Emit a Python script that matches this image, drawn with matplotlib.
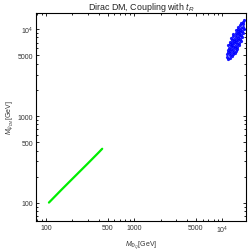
import matplotlib
matplotlib.use("Agg")
import matplotlib.pyplot as plt
from matplotlib.ticker import FixedLocator, FixedFormatter, LogLocator, NullFormatter

plt.rcParams['font.family'] = ['Liberation Sans', 'DejaVu Sans']
plt.rcParams['mathtext.fontset'] = 'custom'
plt.rcParams['mathtext.rm'] = 'Liberation Sans'
plt.rcParams['mathtext.it'] = 'Liberation Sans:italic'

# Green band (light states)
green_x = [108, 150, 200, 250, 300, 350, 400, 435]
green_y = [101, 142, 190, 238, 286, 335, 384, 420]

# Blue cloud (heavy states)
blue_x = [
    11700,
    11520, 12390,
    11490, 12200, 12960,
    11730, 12460, 13230,
    11550, 12260, 13200, 14020,
    11850, 12590, 13410, 14230,
    11760, 12490, 13270, 14090, 14960,
    12360, 13130, 13980, 14840,
    12260, 13020, 13830, 14690, 15600,
    12890, 13690, 14570, 15480,
    12790, 13580, 14420, 15320, 16270,
    13440, 14270, 15200, 16140,
    13480, 14500, 15600, 16790,
    14270, 15000, 15730, 16530,
    14230, 15320, 16060, 17280,
    15080, 16010, 17010,
    15200, 16350, 17600,
    15930, 17510,
    16270, 17460,
    17420,
    17780,
]
blue_y = [
    4520,
    4830, 4690,
    5130, 5010, 4895,
    5410, 5280, 5150,
    5780, 5650, 5470, 5340,
    6080, 5920, 5780, 5630,
    6480, 6310, 6160, 6020, 5860,
    6740, 6560, 6410, 6240,
    7180, 7000, 6830, 6670, 6500,
    7470, 7280, 7110, 6920,
    7960, 7760, 7570, 7400, 7200,
    8290, 8070, 7880, 7680,
    8780, 8530, 8260, 8030,
    9120, 8920, 8760, 8580,
    9690, 9410, 9240, 8950,
    10050, 9800, 9560,
    10630, 10320, 10030,
    11090, 10660,
    11690, 11320,
    12050,
    12690,
]

tick_vals = [100, 500, 1000, 5000, 10000]
tick_labels = ['100', '500', '1000', '5000', r'$10^4$']

fig = plt.figure(figsize=(2.49, 2.53), dpi=100)
ax = fig.add_axes([36/249, 1-222/253, 210/249, 208/253])

ax.plot(green_x, green_y, color='#00ee00', lw=1.6, solid_capstyle='round', zorder=2)
ax.plot(blue_x, blue_y, 'o', color='#0000ff', ms=2.3, mew=0, alpha=0.9, zorder=3)

ax.set_xscale('log')
ax.set_yscale('log')
ax.set_xlim(77, 18700)
ax.set_ylim(62, 15300)

for axis in (ax.xaxis, ax.yaxis):
    axis.set_major_locator(FixedLocator(tick_vals))
    axis.set_major_formatter(FixedFormatter(tick_labels))
    axis.set_minor_locator(LogLocator(base=10, subs=range(2, 10)))
    axis.set_minor_formatter(NullFormatter())

ax.tick_params(which='both', direction='in', top=True, right=True,
               labelsize=5, labelcolor='#333333', width=0.6, pad=2)
ax.tick_params(which='major', length=2.5)
ax.tick_params(which='minor', length=1.5)
for s in ax.spines.values():
    s.set_linewidth(0.8)

ax.set_title(r'Dirac DM, Coupling with $t_R$', fontsize=6.4, pad=3, color='#222222')
ax.set_xlabel(r'$M_{\Phi_Q}$[GeV]', fontsize=5, labelpad=3, color='#333333')
ax.set_ylabel(r'$M_{\psi_{DM}}$[GeV]', fontsize=5, labelpad=2, color='#333333')

fig.savefig('out.png', dpi=100)
